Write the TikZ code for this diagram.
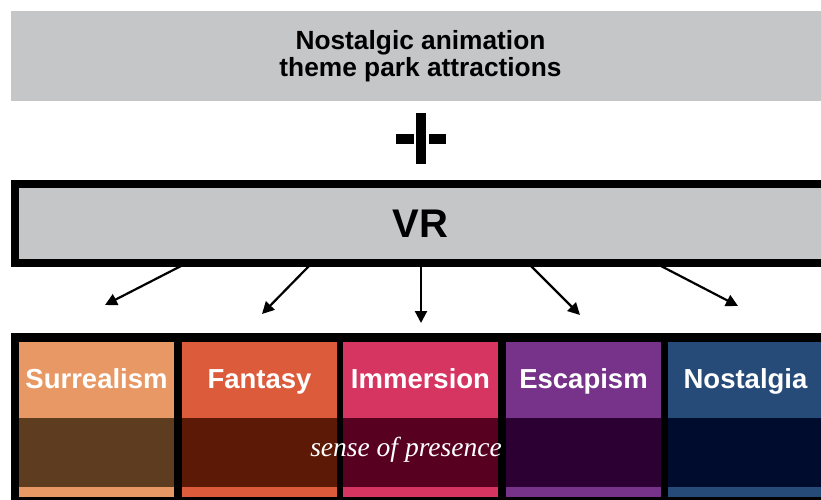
\documentclass[tikz,border=0pt]{standalone}
\usepackage{fontspec}
\setmainfont{Liberation Sans}
\newfontfamily\serifit{Liberation Serif}
\usetikzlibrary{arrows.meta,calc}
\definecolor{boxgray}{HTML}{C5C6C8}
\definecolor{surA}{HTML}{E89864}
\definecolor{surB}{HTML}{5D3C20}
\definecolor{fanA}{HTML}{DC5B3B}
\definecolor{fanB}{HTML}{5C1A06}
\definecolor{immA}{HTML}{D63562}
\definecolor{immB}{HTML}{580020}
\definecolor{escA}{HTML}{773389}
\definecolor{escB}{HTML}{2D0034}
\definecolor{nosA}{HTML}{274B79}
\definecolor{nosB}{HTML}{000C2D}
\tikzset{
  graybox/.style={fill=boxgray, inner sep=0pt},
  collabel/.style={text=white, anchor=base, inner sep=0pt, font=\fontsize{27.5}{30}\selectfont\bfseries},
  vrarrow/.style={line width=2.2pt, -{Triangle[length=12pt,width=12pt]}},
}
\begin{document}
\begin{tikzpicture}[x=1pt,y=-1pt]
\useasboundingbox (0,0) rectangle (821,499);
\fill[white] (0,0) rectangle (821,499);
% top box
\node[graybox, minimum width=819pt, minimum height=90pt, align=center,
      font=\fontsize{26.3}{27}\selectfont\bfseries] (top) at (420.5,56)
      {Nostalgic animation\\theme park attractions};
% plus-like symbol
\fill[black] (416,113) rectangle (426,164);
\fill[black] (395.5,134) rectangle (413.5,144);
\fill[black] (429,134) rectangle (446,144);
% VR box
\node[graybox, draw=black, line width=8pt, minimum width=811pt, minimum height=79pt,
      font=\fontsize{40}{40}\selectfont\bfseries] (vr) at (420.5,223.5) {VR};
% arrows
\coordinate (s1) at (181,266); \coordinate (e1) at (105,305);
\coordinate (s2) at (309,266); \coordinate (e2) at (262,314);
\coordinate (s3) at (421,266); \coordinate (e3) at (421,323);
\coordinate (s4) at (531,266); \coordinate (e4) at (580,315);
\coordinate (s5) at (661,266); \coordinate (e5) at (738,306);
\foreach \i in {1,...,5} { \draw[vrarrow] (s\i) -- (e\i); }
% bottom frame
\fill[black] (11,333) rectangle (830,510);
% columns
\foreach \x/\ca/\cb/\name/\txt in {19/surA/surB/sur/Surrealism, 182/fanA/fanB/fan/Fantasy,
   343/immA/immB/imm/Immersion, 506/escA/escB/esc/Escapism, 668/nosA/nosB/nos/Nostalgia} {
  \fill[\ca] (\x,342) rectangle ($(\x,497)+(155,0)$);
  \fill[\cb] (\x,418) rectangle ($(\x,487)+(155,0)$);
  \node[collabel] (\name) at ($(\x,388)+(77.5,0)$) {\txt};
}
\node[text=white, anchor=base, inner sep=0pt, font=\serifit\itshape\fontsize{27.5}{27}\selectfont]
  (presence) at (406,456.7) {sense of presence};
\end{tikzpicture}
\end{document}
